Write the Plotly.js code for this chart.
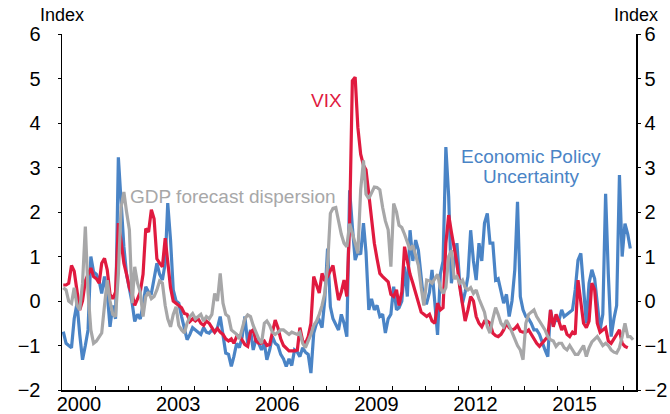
<!DOCTYPE html>
<html><head><meta charset="utf-8">
<script src="https://cdn.plot.ly/plotly-3.0.1.min.js"></script>
<style>html,body{margin:0;padding:0;background:#fff}#chart{width:670px;height:414px}</style>
</head><body><div id="chart"></div>
<script>
const startYear = 2000;
const tickYears = [2000, 2003, 2006, 2009, 2012, 2015];
const yTicks = [-2, -1, 0, 1, 2, 3, 4, 5, 6];

// VIX, monthly from Jan 2000
const vix = [
  0.36, 0.36, 0.4, 0.8, 0.67, 0.2, -0.2, 0.0, 0.45, 0.6, 0.74, 0.55,
  0.5, 0.4, 0.85, 0.96, 0.7, 0.15, 0.05, 0.2, 1.75, 1.35, 0.85, 0.6,
  0.3, 0.15, -0.1, 0.05, 0.2, 0.6, 1.63, 1.55, 2.05, 1.85, 0.95, 0.85,
  0.77, 1.41, 0.9, 0.3, 0.0, -0.05, -0.1, -0.15, -0.28, -0.3, -0.46, -0.4,
  -0.45, -0.4, -0.5, -0.55, -0.45, -0.5, -0.6, -0.7, -0.62, -0.7, -0.75, -0.85,
  -0.9, -0.85, -0.95, -0.8, -0.78, -0.88, -0.98, -1.02, -0.7, -0.65, -0.9, -0.95,
  -0.95, -0.9, -1.0, -0.98, -0.7, -0.43, -0.6, -0.85, -1.0, -1.05, -1.12, -1.12,
  -1.12, -1.1, -0.6, -0.9, -0.95, -0.8, -0.5, 0.55, 0.35, 0.18, 0.62, 0.45,
  0.55, 0.7, 0.8, 0.4, 0.02, 0.2, 0.47, 0.1, 1.75, 4.95, 5.03, 3.9,
  3.3, 3.05, 2.95, 2.4, 1.8, 1.3, 0.95, 0.62, 0.55, 0.5, 0.43, 0.15,
  0.1, 0.25, -0.1, 0.2, 1.22, 0.9, 0.6, 0.4, 0.2, 0.0, -0.25, -0.3,
  -0.35, -0.3, -0.45, -0.5, -0.05, -0.2, -0.15, 1.3, 1.93, 1.55, 1.2, 0.85,
  0.32, -0.1, -0.45, -0.2, 0.1, 0.0, -0.35, -0.5, -0.58, -0.45, -0.45, -0.5,
  -0.72, -0.78, -0.8, -0.75, -0.65, -0.5, -0.6, -0.65, -0.62, -0.55, -0.68, -0.7,
  -0.7, -0.65, -0.75, -0.85, -0.95, -1.02, -0.95, -0.85, -0.8, -0.2, -0.58, -0.3,
  -0.45, -0.65, -0.55, -0.75, -0.8, -0.7, -0.75, 0.47, 0.0, -0.5, -0.6, -0.45,
  0.4, 0.25, -0.5, -0.7, -0.65, -0.6, -0.9, -0.95, -0.85, -0.75, -0.65, -0.95,
  -1.02, -1.05
];

// Economic Policy Uncertainty, monthly from Jan 2000
const epu = [
  -0.69, -0.95, -1.0, -1.05, -0.4, -0.05, -0.75, -1.32, -1.0, -0.65, 1.0, 0.65,
  0.6, 0.45, 0.17, 0.55, 0.17, -0.58, -0.1, -0.4, 3.23, 2.11, 1.22, 0.6,
  0.3, -0.05, -0.46, -0.3, -0.4, -0.1, 0.32, 0.2, 0.17, 0.5, 0.85, 0.6,
  0.47, 0.85, 2.2, 1.37, 0.25, 0.0, -0.05, -0.35, -0.6, -0.87, -0.75, -0.6,
  -0.65, -0.7, -0.75, -0.6, -0.7, -0.72, -0.65, -0.7, -0.6, -0.35, -0.8, -1.17,
  -1.2, -1.47, -1.25, -0.95, -1.05, -0.8, -0.35, -0.95, -0.65, -1.1, -0.85, -0.95,
  -1.1, -0.95, -1.32, -1.1, -0.8, -0.95, -1.0, -1.2, -1.3, -1.47, -1.3, -1.45,
  -1.1, -1.15, -1.25, -1.05, -1.15, -1.2, -1.62, -0.72, -0.5, -0.43, -0.6, 0.02,
  1.18, -0.13, -0.4, -0.55, -0.65, -0.3, -0.5, -0.8, 2.49, 1.67, 0.92, 1.1,
  1.05, 1.75, 1.1, -0.2, 0.05, -0.2, -0.1, -0.35, -0.3, -0.72, -0.4, -0.3,
  0.32, -0.2, -0.15, 0.0, 0.77, 0.1, 1.59, 0.9, 1.37, 1.14, 0.6, -0.05,
  -0.05, 0.2, 0.7, -0.1, -0.76, 0.6, 0.9, 3.46, 2.34, 0.4, 0.9, 1.3,
  0.4, -0.05, 0.2, 0.55, 1.59, 0.9, 0.47, 1.3, 0.9, 1.75, 1.97, 1.3,
  1.3, 0.47, 0.5, 0.2, -0.05, 0.15, -0.35, 0.0, 0.7, 2.23, 0.1, -0.2,
  -0.35, -0.4, -0.5, -0.65, -0.65, -0.75, -0.95, -1.1, -1.25, -0.2, -0.55, -0.4,
  -0.45, -0.2, -0.35, -0.3, -0.25, -0.2, 0.25, 0.92, 1.07, 0.2, -0.5, 0.4,
  0.7, 0.5, 0.0, -0.65, -0.3, 2.41, 0.6, -0.8, -0.4, -0.1, 2.83, 1.0,
  1.74, 1.5, 1.18
];

// GDP forecast dispersion, monthly from Jan 2000
const gdp = [
  0.3, 0.25, 0.0, -0.05, 0.3, -0.1, -0.2, 0.4, 1.67, 0.2, -0.65, -0.95,
  -0.9, -0.8, -0.72, -0.1, 0.47, 0.0, -0.3, -0.35, 0.6, 2.1, 2.45, 2.0,
  1.6, -0.05, 0.77, 0.4, 0.2, -0.35, 0.1, 0.2, 0.05, 0.1, 0.25, 0.45,
  0.4, -0.1, -0.4, -0.58, -0.3, -0.13, -0.55, -0.65, -0.72, -0.5, -0.35, -0.28,
  -0.4, -0.35, -0.3, -0.45, -0.35, -0.4, -0.3, 0.17, 0.0, 0.62, -0.05, -0.3,
  -0.35, -0.65, -0.7, -0.75, -0.85, -0.6, -0.4, -0.31, -0.35, -0.55, -0.7, -0.85,
  -0.95, -0.5, -0.45, -0.55, -0.7, -0.75, -0.7, -0.65, -0.65, -0.7, -0.75, -0.7,
  -0.72, -0.75, -0.7, -0.95, -1.05, -0.9, -0.75, -0.55, -0.45, -0.3, -0.1, 0.17,
  0.8, 1.97, 2.08, 2.1, 1.8, 1.5, 1.3, 1.22, 1.74, 1.55, 1.3, 1.07,
  2.5, 3.16, 2.4, 2.3, 2.45, 2.56, 2.55, 2.5, 2.1, 1.8, 1.6, 0.77,
  2.19, 2.0, 1.7, 1.65, 1.5, 1.3, 1.15, 1.25, 1.05, 0.8, 0.3, -0.1,
  0.47, 0.45, 0.4, 0.5, 0.6, 0.3, 0.17, 0.3, 1.0, 1.14, 0.5, 0.55,
  0.4, 0.47, 0.3, 0.25, 0.3, 0.17, 0.25, 0.05, -0.1, -0.25, -0.58, -0.72,
  -0.4, -0.15, -0.3, -0.5, -0.58, -0.43, -0.55, -0.7, -0.87, -1.0, -1.1, -1.32,
  -0.5, -0.3, -0.25, -0.2, -0.35, -0.45, -0.55, -0.65, -0.8, -0.87, -0.9, -1.02,
  -0.95, -0.95, -1.05, -1.1, -1.0, -1.1, -1.2, -1.2, -1.1, -1.0, -1.25, -1.05,
  -0.92, -0.85, -0.8, -0.9, -1.0, -0.95, -1.0, -1.1, -1.15, -1.17, -1.05, -0.8,
  -0.5, -0.8, -0.8, -0.87
];

function monthDates(n) {
  const out = [];
  for (let i = 0; i < n; i++) {
    const y = startYear + Math.floor(i / 12);
    const m = (i % 12) + 1;
    out.push(y + '-' + String(m).padStart(2, '0') + '-15');
  }
  return out;
}

const RED = '#E01A3F', BLUE = '#4A84C6', GREY = '#A7A7A8';
const FONT = 'Liberation Sans, Arial, Helvetica, sans-serif';

const traces = [
  {x: monthDates(epu.length), y: epu, type: 'scatter', mode: 'lines', name: 'Economic Policy Uncertainty',
   line: {color: BLUE, width: 3.2}, hoverinfo: 'skip'},
  {x: monthDates(vix.length), y: vix, type: 'scatter', mode: 'lines', name: 'VIX',
   line: {color: RED, width: 3.2}, hoverinfo: 'skip'},
  {x: monthDates(gdp.length), y: gdp, type: 'scatter', mode: 'lines', name: 'GDP forecast dispersion',
   line: {color: GREY, width: 3.2}, hoverinfo: 'skip', yaxis: 'y2'}
];

const yAxisBase = {
  range: [-2, 6], tickvals: yTicks, ticktext: yTicks.map(v => v < 0 ? '\u2212' + Math.abs(v) : String(v)),
  ticks: 'outside', ticklen: 3, tickcolor: '#000', tickwidth: 1,
  showline: true, linecolor: '#000', linewidth: 1.5,
  showgrid: false, zeroline: false, fixedrange: true,
  tickfont: {family: FONT, size: 20, color: '#000'}
};

const layout = {
  width: 670, height: 414,
  margin: {l: 62, r: 34, t: 34, b: 24, pad: 0},
  paper_bgcolor: '#fff', plot_bgcolor: '#fff',
  showlegend: false,
  font: {family: FONT, color: '#000'},
  xaxis: {
    type: 'date', range: ['2000-01-01', '2017-05-17'],
    tickvals: tickYears.map(y => y + '-01-01'), ticktext: tickYears.map(String),
    ticks: 'inside', ticklen: 4, tickcolor: '#000', tickwidth: 1,
    ticklabelshift: 17, ticklabelstandoff: -5,
    minor: {tick0: '2000-01-01', dtick: 'M12', ticks: 'inside', ticklen: 4, tickcolor: '#000', showgrid: false},
    showline: true, linecolor: '#000', linewidth: 1.5,
    showgrid: false, zeroline: false, fixedrange: true,
    tickfont: {family: FONT, size: 20, color: '#000'}
  },
  yaxis: Object.assign({}, yAxisBase, {side: 'left', ticklabelstandoff: 13}),
  yaxis2: Object.assign({}, yAxisBase, {side: 'right', overlaying: 'y', ticklabelstandoff: 0}),
  annotations: [
    {text: 'Index', xref: 'paper', yref: 'paper', x: 0, y: 1, xanchor: 'center', yanchor: 'bottom', yshift: 7,
     showarrow: false, font: {family: FONT, size: 18, color: '#000'}},
    {text: 'Index', xref: 'paper', yref: 'paper', x: 1, y: 1, xanchor: 'center', yanchor: 'bottom', yshift: 7,
     showarrow: false, font: {family: FONT, size: 18, color: '#000'}},
    {text: 'VIX', xref: 'x', yref: 'y', x: '2008-01-08', y: 4.5, xanchor: 'center', yanchor: 'middle',
     showarrow: false, font: {family: FONT, size: 19, color: RED}},
    {text: 'GDP forecast dispersion', xref: 'x', yref: 'y', x: '2001-12-28', y: 2.35, xanchor: 'left', yanchor: 'middle',
     showarrow: false, font: {family: FONT, size: 19, color: GREY}},
    {text: 'Economic Policy', xref: 'x', yref: 'y', x: '2014-03-15', y: 3.25, xanchor: 'center', yanchor: 'middle',
     showarrow: false, font: {family: FONT, size: 19, color: BLUE}},
    {text: 'Uncertainty', xref: 'x', yref: 'y', x: '2014-03-15', y: 2.8, xanchor: 'center', yanchor: 'middle',
     showarrow: false, font: {family: FONT, size: 19, color: BLUE}}
  ]
};

Plotly.newPlot('chart', traces, layout, {staticPlot: true, displayModeBar: false});
</script>
</body></html>
